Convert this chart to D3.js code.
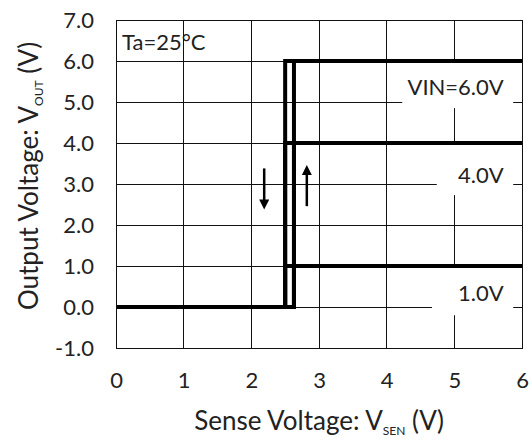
<!DOCTYPE html>
<html>
<head>
<meta charset="utf-8">
<script src="https://cdn.jsdelivr.net/npm/d3@7"></script>
<style>
  html, body { margin: 0; padding: 0; background: #fff; }
  svg { display: block; font-family: Lato, "Open Sans", sans-serif; }
</style>
</head>
<body>
<svg id="chart" width="529" height="440"></svg>
<script>
// Axis ticks
const xTicks = [0, 1, 2, 3, 4, 5, 6];
const yTicks = [-1, 0, 1, 2, 3, 4, 5, 6, 7];

// Supply voltages (one hysteresis loop per VIN)
const vinLevels = [6.0, 4.0, 1.0];
const vinLabels = ["VIN=6.0V", "4.0V", "1.0V"];

// Detector thresholds (V): release on rising sense, detect on falling sense
const riseThreshold = 2.63;
const fallThreshold = 2.50;
const senseMin = 0;
const senseMax = 6;

// Direction arrows: [x, yStart, yEnd]
const arrows = [
  [2.19, 3.38, 2.50],
  [2.82, 2.46, 3.34]
];

const margin = { left: 116, right: 7, top: 20, bottom: 92 };
const W = 529, H = 440;
const svg = d3.select("#chart");

const x = d3.scaleLinear().domain([0, 6]).range([margin.left, W - margin.right]);
const y = d3.scaleLinear().domain([-1, 7]).range([H - margin.bottom, margin.top]);

// Grid
const grid = svg.append("g").attr("stroke", "#111").attr("stroke-width", 1).attr("shape-rendering", "crispEdges");
grid.selectAll(".gx").data(xTicks).join("line")
  .attr("x1", d => x(d)).attr("x2", d => x(d))
  .attr("y1", y(-1)).attr("y2", y(7));
grid.selectAll(".gy").data(yTicks).join("line")
  .attr("x1", x(0)).attr("x2", x(6))
  .attr("y1", d => y(d)).attr("y2", d => y(d));

// Value labels with white backing boxes
const labelY = [5.17, 3.02, 0.15];
const boxes = [
  { x0: 4.23, x1: 5.87, y0: 5.97, y1: 4.85 },
  { x0: 4.74, x1: 5.87, y0: 3.97, y1: 2.73 },
  { x0: 4.67, x1: 5.87, y0: 0.97, y1: -0.2 }
];
const lab = svg.append("g");
lab.selectAll("rect").data(boxes).join("rect")
  .attr("x", d => x(d.x0)).attr("width", d => x(d.x1) - x(d.x0))
  .attr("y", d => y(d.y0)).attr("height", d => y(d.y1) - y(d.y0))
  .attr("fill", "#fff");
lab.selectAll("text").data(vinLabels).join("text")
  .attr("x", x(5.73)).attr("y", (d, i) => y(labelY[i]))
  .attr("text-anchor", "end").attr("font-size", 22).attr("fill", "#222")
  .text(d => d);

// Hysteresis loops
const line = d3.line().x(d => x(d[0])).y(d => y(d[1]));
const loops = vinLevels.map(v => [
  [senseMin, 0], [riseThreshold, 0], [riseThreshold, v], [senseMax, v],
  [fallThreshold, v], [fallThreshold, 0]
]);
svg.append("g").selectAll("path").data(loops).join("path")
  .attr("d", line).attr("fill", "none").attr("stroke", "#000")
  .attr("stroke-width", 4).attr("stroke-linejoin", "miter");

// Arrows
const defs = svg.append("defs");
defs.append("marker").attr("id", "head").attr("viewBox", "0 0 10 10")
  .attr("refX", 5).attr("refY", 5).attr("markerWidth", 11).attr("markerHeight", 10)
  .attr("markerUnits", "userSpaceOnUse").attr("orient", "auto")
  .append("path").attr("d", "M0,0 L10,5 L0,10 Z").attr("fill", "#000");
svg.append("g").selectAll("line").data(arrows).join("line")
  .attr("x1", d => x(d[0])).attr("x2", d => x(d[0]))
  .attr("y1", d => y(d[1])).attr("y2", d => y(d[2]))
  .attr("stroke", "#000").attr("stroke-width", 2.5)
  .attr("marker-end", "url(#head)");

// Border
svg.append("rect").attr("x", x(0)).attr("y", y(7))
  .attr("width", x(6) - x(0)).attr("height", y(-1) - y(7))
  .attr("fill", "none").attr("stroke", "#111").attr("stroke-width", 1)
  .attr("shape-rendering", "crispEdges");

// Axes (labels only); plain hyphen for negatives
const fmt1 = d => d.toFixed(1);
const yAxis = d3.axisLeft(y).tickValues(yTicks).tickFormat(fmt1).tickSize(0).tickPadding(22);
svg.append("g").attr("transform", `translate(${x(0)},0)`).call(yAxis)
  .call(g => g.select(".domain").remove())
  .selectAll("text").attr("font-size", 22).attr("fill", "#222").attr("font-family", "Lato, sans-serif");
const xAxis = d3.axisBottom(x).tickValues(xTicks).tickFormat(d3.format("d")).tickSize(0).tickPadding(24);
svg.append("g").attr("transform", `translate(0,${y(-1)})`).call(xAxis)
  .call(g => g.select(".domain").remove())
  .selectAll("text").attr("font-size", 22).attr("fill", "#222").attr("font-family", "Lato, sans-serif");

// Temperature note
svg.append("text").attr("x", x(0) + 6).attr("y", 50)
  .attr("font-size", 22).attr("fill", "#222").text("Ta=25°C");

// Axis titles
const xt = svg.append("text").attr("x", 319).attr("y", 430).attr("text-anchor", "middle")
  .attr("font-size", 26).attr("fill", "#222");
xt.append("tspan").text("Sense Voltage: V");
xt.append("tspan").attr("font-size", 12).attr("dy", 5).text("SEN");
xt.append("tspan").attr("dy", -5).text(" (V)");

const yt = svg.append("text").attr("transform", "translate(38,176) rotate(-90)")
  .attr("text-anchor", "middle").attr("font-size", 26).attr("fill", "#222");
yt.append("tspan").text("Output Voltage: V");
yt.append("tspan").attr("font-size", 12).attr("dy", 5).text("OUT");
yt.append("tspan").attr("dy", -5).text(" (V)");
</script>
</body>
</html>
